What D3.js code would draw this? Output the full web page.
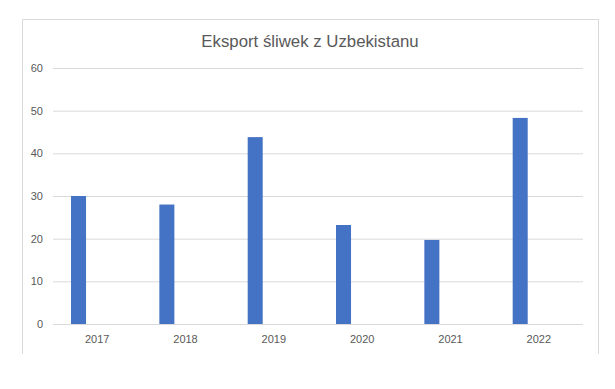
<!DOCTYPE html>
<html>
<head>
<meta charset="utf-8">
<script src="https://cdn.jsdelivr.net/npm/d3@7"></script>
<style>
  html, body { margin: 0; padding: 0; background: #fff; }
  svg { display: block; }
  text { font-family: "Liberation Sans", Arial, sans-serif; fill: #595959; }
</style>
</head>
<body>
<svg id="chart" width="615" height="389"></svg>
<script>
const title = "Eksport śliwek z Uzbekistanu";
const categories = ["2017", "2018", "2019", "2020", "2021", "2022"];
const values = [30, 28, 43.8, 23.2, 19.7, 48.3];
const yTicks = [0, 10, 20, 30, 40, 50, 60];

const svg = d3.select("#chart");
const plot = { left: 53, right: 583, top: 68, bottom: 324 };

// chart frame (bottom edge cut off in reference)
svg.append("path")
  .attr("d", `M22.5,354 V19.5 H598.5 V354`)
  .attr("fill", "none")
  .attr("stroke", "#d9d9d9")
  .attr("stroke-width", 1);

const x = d3.scaleBand().domain(categories).range([plot.left, plot.right]).paddingInner(0).paddingOuter(0);
const y = d3.scaleLinear().domain([0, 60]).range([plot.bottom, plot.top]);

// gridlines + y labels
const yAxis = d3.axisLeft(y).tickValues(yTicks).tickSize(-(plot.right - plot.left)).tickPadding(10).tickFormat(d3.format("d"));
const gy = svg.append("g").attr("transform", `translate(${plot.left},0)`).call(yAxis);
gy.select(".domain").remove();
gy.selectAll(".tick line").attr("stroke", "#d9d9d9").attr("stroke-width", 1);
gy.selectAll(".tick text").attr("font-size", "11px").style("fill", "#595959")
  .attr("font-family", "'Liberation Sans', Arial, sans-serif");

// bars
svg.append("g").selectAll("rect")
  .data(categories.map((c, i) => ({ c, v: values[i] })))
  .join("rect")
  .attr("x", d => x(d.c) + x.bandwidth() * 0.204)
  .attr("width", x.bandwidth() * 0.17)
  .attr("y", d => y(d.v))
  .attr("height", d => y(0) - y(d.v))
  .attr("fill", "#4472C4");

// x axis labels
const xAxis = d3.axisBottom(x).tickSize(0).tickPadding(11);
const gx = svg.append("g").attr("transform", `translate(0,${plot.bottom})`).call(xAxis);
gx.select(".domain").remove();
gx.selectAll(".tick text").attr("font-size", "11px").style("fill", "#595959")
  .attr("font-family", "'Liberation Sans', Arial, sans-serif");

// title
svg.append("text")
  .attr("x", 310)
  .attr("y", 47)
  .attr("text-anchor", "middle")
  .attr("font-size", "16.8px")
  .style("fill", "#595959")
  .text(title);
</script>
</body>
</html>
